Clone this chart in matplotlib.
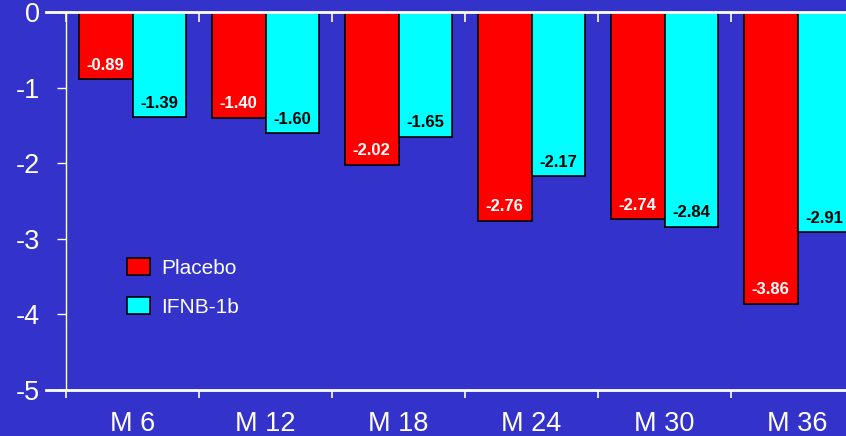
import numpy as np
import matplotlib
matplotlib.use('Agg')
import matplotlib.pyplot as plt

plt.rcParams['font.family'] = ['Liberation Sans', 'DejaVu Sans']

# data
months = ['M 6', 'M 12', 'M 18', 'M 24', 'M 30', 'M 36']
placebo = [-0.89, -1.40, -2.02, -2.76, -2.74, -3.86]
ifnb = [-1.39, -1.60, -1.65, -2.17, -2.84, -2.91]
series_names = ['Placebo', 'IFNB-1b']
yticks = [0, -1, -2, -3, -4, -5]

bg = '#3333cc'
W, H = 846, 436
fig = plt.figure(figsize=(W / 100, H / 100), dpi=100, facecolor=bg)
ax = fig.add_axes([66 / W, 1 - 390 / H, 798 / W, 378 / H], facecolor=bg)

x = np.arange(len(months))
w = 0.405
b1 = ax.bar(x - w / 2, placebo, w, color='#ff0000', edgecolor='black', linewidth=1.2,
            label=series_names[0], zorder=2)
b2 = ax.bar(x + w / 2, ifnb, w, color='#00ffff', edgecolor='black', linewidth=1.2,
            label=series_names[1], zorder=2)

for bars, vals, tc in [(b1, placebo, 'white'), (b2, ifnb, 'black')]:
    for r, v in zip(bars, vals):
        ax.annotate('%.2f' % v, (r.get_x() + r.get_width() / 2, v), xytext=(0, 10),
                    textcoords='offset points', ha='center', va='center',
                    fontsize=12, fontweight='bold', color=tc, zorder=3)

ax.set_xlim(-0.5, 5.5)
ax.set_ylim(-5, 0)

for s in ['top', 'bottom', 'right']:
    ax.spines[s].set_visible(False)
ax.spines['left'].set_color('white')
ax.spines['left'].set_linewidth(1)

# horizontal lines at 0 and -5 run a bit left of the y axis
ax.axhline(0, xmin=-20 / 798, xmax=1, color='white', lw=2, clip_on=False, zorder=4)
ax.axhline(-5, xmin=-20 / 798, xmax=1, color='white', lw=2, clip_on=False, zorder=4)

ax.set_yticks(yticks)
ax.set_yticklabels([str(t) for t in yticks])
ax.tick_params(axis='y', colors='white', labelsize=19.5, length=6.5, width=1, pad=12,
               direction='out')

ax.set_xticks(x)
ax.set_xticklabels(months)
ax.set_xticks(np.arange(-0.5, 6, 1), minor=True)
ax.tick_params(axis='x', which='major', length=0, labelsize=19.5, labelcolor='white', pad=15)
ax.tick_params(axis='x', which='minor', colors='white', length=6, width=1.2,
               direction='out', top=True, bottom=True)
for t in ax.xaxis.get_minor_ticks():
    t.tick2line.set_marker(3)  # top ticks point down into the plot
    t.tick2line.set_markersize(7)

leg = ax.legend(loc='upper left', bbox_to_anchor=(127 / W, 1 - 258 / H),
                bbox_transform=fig.transFigure, frameon=False, fontsize=15,
                handlelength=1.1, handleheight=0.85, handletextpad=0.55,
                labelspacing=0.95, borderpad=0, borderaxespad=0)
for t in leg.get_texts():
    t.set_color('white')

fig.savefig('out.png', dpi=100, facecolor=bg)
